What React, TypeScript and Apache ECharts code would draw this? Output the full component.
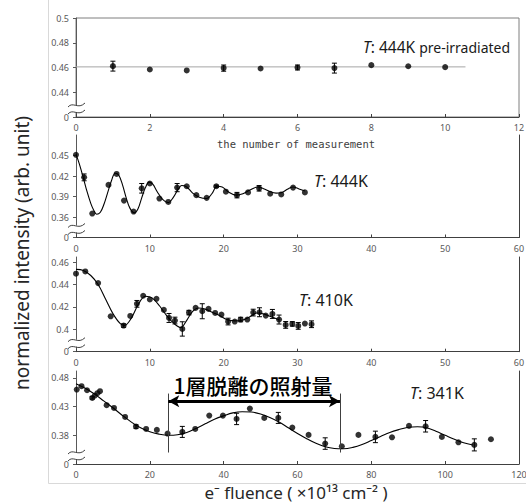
import React, { useEffect, useRef } from 'react';
import * as echarts from 'echarts';

// ---------- Panel 1: T = 444K pre-irradiated (x = number of measurement)
const measNo = [1, 2, 3, 4, 5, 6, 7, 8, 9, 10];
const measVal = [0.4611, 0.4584, 0.4576, 0.4595, 0.4592, 0.46, 0.4595, 0.4619, 0.461, 0.4603];
const measErr = [0.004, 0, 0, 0.0025, 0, 0.002, 0.004, 0, 0, 0];
const measLevelX = [0, 10.55];
const measLevelY = [0.4605, 0.4605];

// ---------- Panel 2: T = 444K
const fl444 = [0, 1.1, 2.2, 4.4, 5.5, 6.5, 7.8, 8.9, 10.0, 11.3, 12.5, 13.7, 15.0, 16.3, 17.7, 19.0, 20.3, 21.8, 23.3, 24.8, 26.3, 27.8, 29.4, 31.0];
const in444 = [0.451, 0.418, 0.365, 0.407, 0.423, 0.384, 0.368, 0.402, 0.409, 0.387, 0.382, 0.403, 0.405, 0.392, 0.388, 0.405, 0.397, 0.392, 0.396, 0.402, 0.394, 0.393, 0.403, 0.396];
const er444 = [0, 0.005, 0, 0, 0, 0, 0, 0.007, 0, 0, 0, 0.006, 0, 0, 0, 0.0015, 0, 0.004, 0, 0.004, 0, 0, 0, 0];
const fit444X = [0, 0.5, 1, 1.5, 2, 2.4, 2.8, 3.3, 3.8, 4.3, 4.8, 5.3, 5.8, 6.3, 6.8, 7.3, 7.9, 8.4, 8.9, 9.4, 9.9, 10.4, 11.0, 11.7, 12.5, 13.2, 13.8, 14.3, 15.0, 15.8, 16.7, 17.7, 18.4, 19.1, 19.8, 20.6, 21.7, 22.6, 23.5, 24.6, 25.5, 26.3, 27.1, 27.9, 28.7, 29.4, 30.2, 31.0];
const fit444Y = [0.452, 0.436, 0.417, 0.397, 0.38, 0.37, 0.364, 0.367, 0.379, 0.396, 0.413, 0.424, 0.421, 0.407, 0.388, 0.373, 0.366, 0.372, 0.388, 0.403, 0.411, 0.408, 0.397, 0.386, 0.381, 0.389, 0.4, 0.406, 0.404, 0.395, 0.389, 0.387, 0.394, 0.405, 0.404, 0.397, 0.392, 0.394, 0.399, 0.404, 0.401, 0.397, 0.395, 0.396, 0.401, 0.404, 0.401, 0.398];

// ---------- Panel 3: T = 410K
const fl410 = [0, 1.26, 3.0, 4.7, 6.45, 7.35, 8.25, 9.1, 10.0, 10.9, 11.9, 12.6, 13.4, 14.4, 15.3, 16.2, 17.1, 17.95, 18.85, 19.7, 20.6, 21.5, 22.3, 23.2, 24.0, 24.85, 25.7, 26.6, 27.5, 28.4, 29.3, 30.1, 31.0, 31.9];
const in410 = [0.4496, 0.4516, 0.4412, 0.4116, 0.4033, 0.4119, 0.4227, 0.4299, 0.4266, 0.4272, 0.4173, 0.4101, 0.4078, 0.4003, 0.4149, 0.4191, 0.4161, 0.4182, 0.4146, 0.4131, 0.4069, 0.4069, 0.4087, 0.4087, 0.4149, 0.4152, 0.4122, 0.4137, 0.4087, 0.4039, 0.4048, 0.403, 0.4051, 0.4045];
const er410 = [0, 0, 0, 0, 0.0015, 0, 0.003, 0, 0, 0, 0, 0.004, 0.003, 0.0064, 0.002, 0, 0.0067, 0, 0, 0, 0.003, 0, 0.002, 0, 0.003, 0.004, 0, 0.004, 0.004, 0.003, 0.002, 0.003, 0, 0.003];
const fit410X = [0, 1, 2, 3, 4, 5, 6, 6.6, 7.5, 8.5, 9.4, 10.3, 11.3, 12.3, 13.3, 14.2, 15.0, 15.8, 16.6, 17.5, 18.5, 19.5, 20.5, 21.5, 22.5, 23.5, 24.5, 25.5, 26.5, 27.5];
const fit410Y = [0.4535, 0.4525, 0.448, 0.44, 0.427, 0.414, 0.405, 0.4035, 0.41, 0.423, 0.4295, 0.428, 0.421, 0.412, 0.405, 0.4015, 0.408, 0.416, 0.419, 0.418, 0.415, 0.412, 0.4085, 0.4075, 0.408, 0.411, 0.4145, 0.4135, 0.411, 0.4085];

// ---------- Panel 4: T = 341K
const fl341 = [0.2, 1.5, 3.0, 4.4, 5.1, 5.8, 6.5, 8.3, 10.3, 13.3, 16.25, 19.0, 21.9, 24.8, 28.8, 32.3, 36.1, 39.8, 43.5, 47.1, 51.0, 54.8, 58.6, 63.0, 67.5, 72.0, 76.5, 81.1, 85.6, 90.2, 94.7, 99.1, 103.6, 107.9, 112.4];
const in341 = [0.4597, 0.4655, 0.4585, 0.4451, 0.4492, 0.4533, 0.4568, 0.4324, 0.4277, 0.412, 0.3952, 0.3911, 0.3894, 0.383, 0.3859, 0.3911, 0.4143, 0.4143, 0.4085, 0.4265, 0.4103, 0.4103, 0.3934, 0.3807, 0.3656, 0.3609, 0.3807, 0.3772, 0.3765, 0.3964, 0.3957, 0.3772, 0.3678, 0.3633, 0.3731];
const er341 = [0, 0, 0, 0.002, 0, 0, 0, 0, 0, 0, 0.003, 0, 0, 0, 0.0096, 0, 0, 0, 0.0099, 0, 0, 0.0096, 0, 0, 0.01, 0, 0, 0.01, 0, 0, 0.01, 0, 0, 0.0105, 0];
const fit341X = [0, 2.5, 5, 7.5, 10, 12.5, 15, 17.5, 20, 22.5, 25, 27.5, 30, 32.5, 35, 37.5, 40, 42.5, 45, 47.5, 50, 52.5, 55, 57.5, 60, 62.5, 65, 67.5, 70, 72.5, 75, 77.5, 80, 82.5, 85, 87.5, 90, 92.5, 95, 97.5, 100, 102.5, 105, 107.5];
const fit341Y = [0.47, 0.462, 0.452, 0.44, 0.428, 0.415, 0.403, 0.393, 0.386, 0.382, 0.38, 0.381, 0.385, 0.392, 0.4, 0.408, 0.414, 0.419, 0.421, 0.4205, 0.417, 0.411, 0.403, 0.393, 0.383, 0.374, 0.366, 0.36, 0.357, 0.3565, 0.359, 0.364, 0.371, 0.378, 0.385, 0.39, 0.394, 0.395, 0.393, 0.387, 0.38, 0.373, 0.367, 0.363];

// annotation: fluence for removal of one layer
const layerDoseRange = [25, 71.5];
const layerArrowY = 0.4392;
const layerLineY = [0.35, 0.4527];
const layerLabel = '1層脱離の照射量';

// axis tick labels (lowest tick is the broken-axis "0")
const yTicks1 = [0.42, 0.44, 0.46, 0.48, 0.5];
const yTicks2 = [0.33, 0.36, 0.39, 0.42, 0.45];
const yTicks3 = [0.38, 0.4, 0.42, 0.44, 0.46];
const yTicks4 = [0.33, 0.38, 0.43, 0.48];

const tempLabels = ['444K', '444K', '410K', '341K'];

const FONT = '"Noto Sans", "DejaVu Sans", sans-serif';
const LBL = '#595959';

const panels = [
  { top: 18, height: 99, xMax: 12, xInt: 2, yMin: 0.42, yMax: 0.5, ticks: yTicks1 },
  { top: 135, height: 102.5, xMax: 60, xInt: 10, yMin: 0.33, yMax: 0.48, ticks: yTicks2 },
  { top: 257, height: 94.7, xMax: 60, xInt: 10, yMin: 0.38, yMax: 0.4645, ticks: yTicks3 },
  { top: 371, height: 93, xMax: 120, xInt: 20, yMin: 0.33, yMax: 0.492, ticks: yTicks4 },
];

const errRender = (params: any, api: any) => {
  const x = api.value(0);
  const y = api.value(1);
  const e = api.value(2);
  const t = api.coord([x, y + e]);
  const b = api.coord([x, y - e]);
  const hw = 2.5;
  const st = { stroke: '#000', lineWidth: 1 };
  return {
    type: 'group',
    children: [
      { type: 'line', shape: { x1: t[0], y1: t[1], x2: b[0], y2: b[1] }, style: st },
      { type: 'line', shape: { x1: t[0] - hw, y1: t[1], x2: t[0] + hw, y2: t[1] }, style: st },
      { type: 'line', shape: { x1: b[0] - hw, y1: b[1], x2: b[0] + hw, y2: b[1] }, style: st },
    ],
  };
};

const fmtTick = (min: number) => (v: number) =>
  Math.abs(v - min) < 1e-9 ? '0' : String(+(+v).toFixed(2));

function buildOption() {
  const grid: any[] = [];
  const xAxis: any[] = [];
  const yAxis: any[] = [];
  const series: any[] = [];
  const graphic: any[] = [];

  panels.forEach((p, i) => {
    grid.push({
      left: 76, top: p.top, width: 443, height: p.height,
      containLabel: false, outerBoundsMode: 'none',
      show: i === 0, borderColor: '#7f7f7f', borderWidth: 1, backgroundColor: 'transparent',
    });
    xAxis.push({
      type: 'value', gridIndex: i, min: 0, max: p.xMax, interval: p.xInt,
      axisLine: { show: true, onZero: false, lineStyle: { color: '#404040', width: 1 } },
      axisTick: { show: true, inside: true, length: 3, lineStyle: { color: '#404040' } },
      axisLabel: { fontSize: 9, color: LBL, margin: 6, fontFamily: FONT, showMinLabel: true, showMaxLabel: true },
      splitLine: { show: false },
    });
    yAxis.push({
      type: 'value', gridIndex: i, min: p.yMin, max: p.yMax,
      axisLine: { show: true, onZero: false, lineStyle: { color: '#595959', width: 1 } },
      axisTick: { show: true, inside: false, length: 3, customValues: p.ticks, lineStyle: { color: '#595959' } },
      axisLabel: { customValues: p.ticks, formatter: fmtTick(p.yMin), fontSize: 9, color: LBL, margin: 7, fontFamily: FONT },
      splitLine: { show: false },
    });
  });
  // right border lines of panels 2-4
  [1, 2, 3].forEach((i) => {
    yAxis.push({
      type: 'value', gridIndex: i, position: 'right', min: panels[i].yMin, max: panels[i].yMax,
      axisLine: { show: true, onZero: false, lineStyle: { color: '#404040', width: 1 } },
      axisTick: { show: false }, axisLabel: { show: false }, splitLine: { show: false },
    });
  });

  const fitLine = (i: number, xs: number[], ys: number[], extra: any = {}) => ({
    type: 'line', xAxisIndex: i, yAxisIndex: i, smooth: 0.35, showSymbol: false, symbol: 'none',
    data: xs.map((x, k) => [x, ys[k]]),
    lineStyle: { color: '#000', width: 1.1 }, z: 2, silent: true, ...extra,
  });
  const errSeries = (i: number, xs: number[], ys: number[], es: number[]) => ({
    type: 'custom', xAxisIndex: i, yAxisIndex: i, renderItem: errRender, z: 3, silent: true,
    data: xs.map((x, k) => [x, ys[k], es[k]]).filter((d) => d[2] > 0),
  });
  const dots = (i: number, xs: number[], ys: number[]) => ({
    type: 'scatter', xAxisIndex: i, yAxisIndex: i, symbol: 'circle', symbolSize: 6,
    itemStyle: { color: '#000' }, z: 4, silent: true,
    data: xs.map((x, k) => [x, ys[k]]),
  });

  // panel 1
  series.push({
    type: 'line', xAxisIndex: 0, yAxisIndex: 0, showSymbol: false, symbol: 'none', silent: true,
    data: measLevelX.map((x, k) => [x, measLevelY[k]]), lineStyle: { color: '#a6a6a6', width: 1 }, z: 2,
  });
  series.push(errSeries(0, measNo, measVal, measErr));
  series.push(dots(0, measNo, measVal));
  // panel 2
  series.push(fitLine(1, fit444X, fit444Y));
  series.push(errSeries(1, fl444, in444, er444));
  series.push(dots(1, fl444, in444));
  // panel 3
  series.push(fitLine(2, fit410X, fit410Y));
  series.push(errSeries(2, fl410, in410, er410));
  series.push(dots(2, fl410, in410));
  // panel 4
  series.push(fitLine(3, fit341X, fit341Y, {
    markLine: {
      silent: true, symbol: 'none', animation: false, label: { show: false },
      lineStyle: { color: '#404040', width: 1, type: 'solid' },
      data: [
        [{ coord: [layerDoseRange[0], layerLineY[0]] }, { coord: [layerDoseRange[0], layerLineY[1]] }],
        [{ coord: [layerDoseRange[1], layerLineY[0]] }, { coord: [layerDoseRange[1], layerLineY[1]] }],
      ],
    },
  }));
  series.push({
    type: 'line', xAxisIndex: 3, yAxisIndex: 3, data: [], silent: true,
    markLine: {
      silent: true, symbol: ['arrow', 'arrow'], symbolSize: [9, 11], animation: false, label: { show: false },
      lineStyle: { color: '#000', width: 3, type: 'solid' },
      data: [[{ coord: [layerDoseRange[0], layerArrowY] }, { coord: [layerDoseRange[1], layerArrowY] }]],
    },
  });
  series.push(errSeries(3, fl341, in341, er341));
  series.push(dots(3, fl341, in341));

  // chart-area frame (light gray)
  graphic.push({ type: 'line', shape: { x1: 48.5, y1: 0, x2: 48.5, y2: 483.5 }, style: { stroke: '#d9d9d9', lineWidth: 1 }, z: 0 });
  graphic.push({ type: 'line', shape: { x1: 48.5, y1: 483.5, x2: 526, y2: 483.5 }, style: { stroke: '#d9d9d9', lineWidth: 1 }, z: 0 });

  // axis breaks
  panels.forEach((p) => {
    const b = p.top + p.height;
    graphic.push({ type: 'rect', shape: { x: 73, y: b - 12, width: 6, height: 7 }, style: { fill: '#fff' }, z: 100 });
    [b - 12, b - 5].forEach((yy) => {
      graphic.push({
        type: 'bezierCurve',
        shape: { x1: 68, y1: yy + 2, cpx1: 73, cpy1: yy - 4, cpx2: 78, cpy2: yy + 5, x2: 85, y2: yy - 2 },
        style: { stroke: '#404040', lineWidth: 1, fill: 'none' }, z: 101,
      });
    });
  });

  // texts
  graphic.push({
    type: 'text', x: 296, y: 143.5, z: 100,
    style: { text: 'the number of measurement', font: '10.5px "DejaVu Sans Mono", monospace', fill: '#404040', textAlign: 'center', textVerticalAlign: 'middle' },
  });
  graphic.push({
    type: 'text', x: 22, y: 253, rotation: Math.PI / 2, z: 100,
    style: { text: 'normalized intensity (arb. unit)', font: `19px ${FONT}`, fill: '#262626', textAlign: 'center', textVerticalAlign: 'middle' },
  });
  graphic.push({
    type: 'text', x: 296, y: 492, z: 100,
    style: { text: 'e⁻ fluence ( ×10¹³ cm⁻² )', font: `17px ${FONT}`, fill: '#262626', textAlign: 'center', textVerticalAlign: 'middle' },
  });
  const tempPos = [[363, 47], [314, 181], [299, 300], [410, 393]];
  tempLabels.forEach((t, i) => {
    const big = i === 0 ? 15.5 : 16;
    graphic.push({
      type: 'text', x: tempPos[i][0], y: tempPos[i][1], z: 100,
      style: {
        text: `{i|T}: ${t}` + (i === 0 ? ' {s|pre-irradiated}' : ''),
        font: `${big}px ${FONT}`, fill: '#1a1a1a', textAlign: 'left', textVerticalAlign: 'middle',
        rich: {
          i: { fontStyle: 'italic', fontSize: big, fontFamily: FONT, fill: '#1a1a1a' },
          s: { fontSize: 14, fontFamily: FONT, fill: '#1a1a1a' },
        },
      },
    });
  });
  graphic.push({
    type: 'text', x: 253, y: 385, z: 100,
    style: { text: layerLabel, font: '500 21px "Noto Sans CJK JP", sans-serif', fill: '#000', textAlign: 'center', textVerticalAlign: 'middle' },
  });

  return { animation: false, backgroundColor: '#fff', grid, xAxis, yAxis, series, graphic };
}

export default function App() {
  const ref = useRef<HTMLDivElement>(null);
  useEffect(() => {
    const chart = echarts.init(ref.current!, null, { renderer: 'svg' });
    chart.setOption(buildOption() as any);
    return () => chart.dispose();
  }, []);
  return <div ref={ref} style={{ position: 'fixed', left: 0, top: 0, width: 526, height: 504, background: '#fff' }} />;
}
